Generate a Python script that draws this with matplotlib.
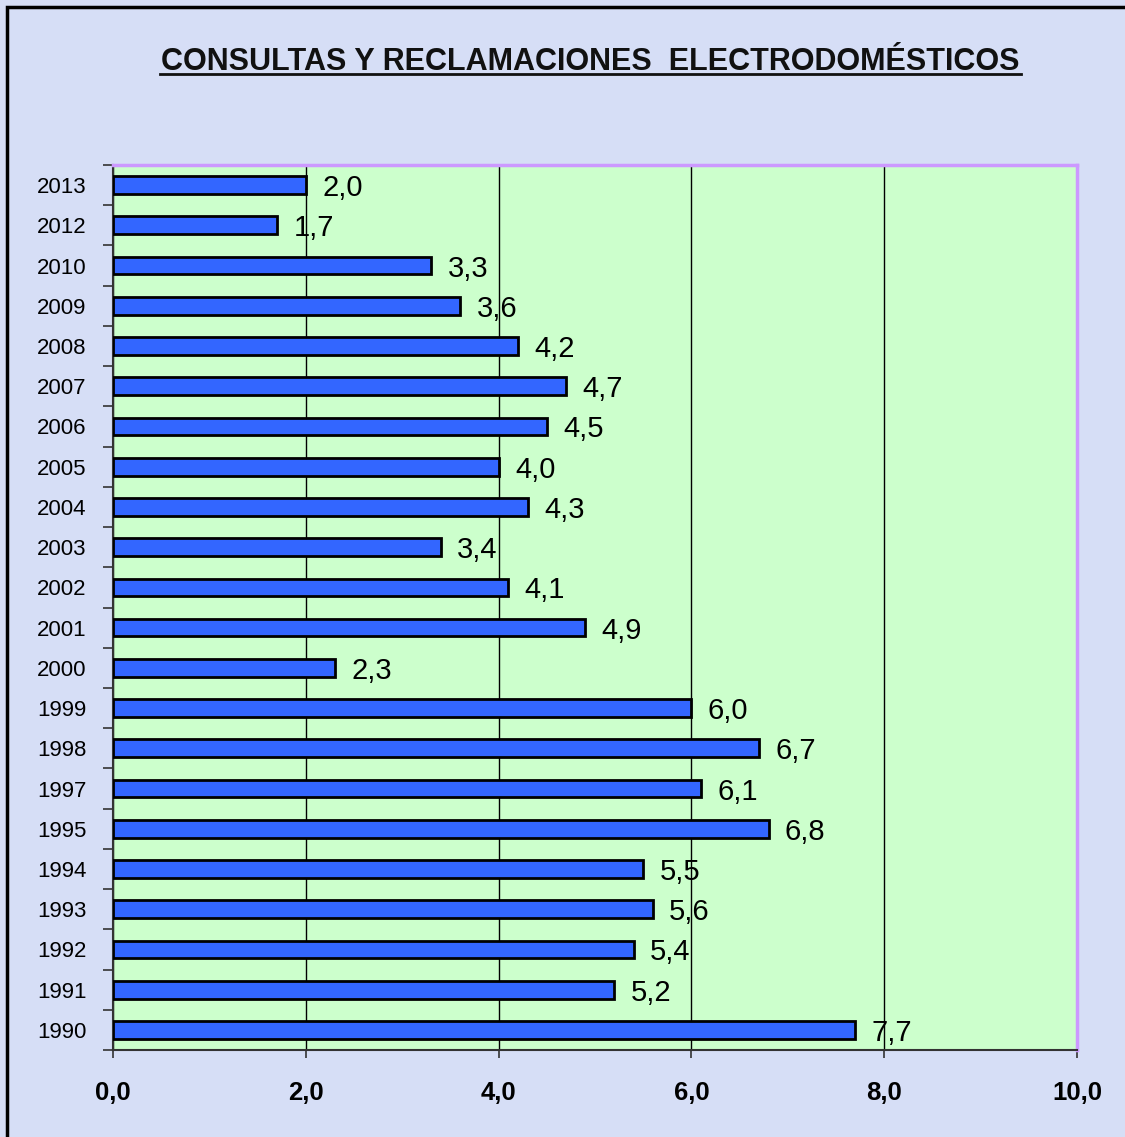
import numpy as np
import matplotlib.pyplot as plt
from matplotlib.patches import Rectangle

plt.rcParams['font.family'] = ['Liberation Sans', 'DejaVu Sans']

# datos (de arriba a abajo en el grafico)
years = ['2013', '2012', '2010', '2009', '2008', '2007', '2006', '2005', '2004', '2003', '2002',
         '2001', '2000', '1999', '1998', '1997', '1995', '1994', '1993', '1992', '1991', '1990']
values = [2.0, 1.7, 3.3, 3.6, 4.2, 4.7, 4.5, 4.0, 4.3, 3.4, 4.1,
          4.9, 2.3, 6.0, 6.7, 6.1, 6.8, 5.5, 5.6, 5.4, 5.2, 7.7]
xticks = [0, 2, 4, 6, 8, 10]

W, H = 1125, 1137
fig = plt.figure(figsize=(W / 100, H / 100), dpi=100)
fig.patch.set_facecolor('#D6DEF6')

# marco negro del grafico
fig.patches.append(Rectangle((7 / W, -0.1), 1.2, 1 - 7 / H + 0.1, transform=fig.transFigure,
                             fill=False, edgecolor='black', linewidth=2.5))

ax = fig.add_axes([113 / W, 1 - 1050 / H, (1077 - 113) / W, (1050 - 165) / H])
ax.set_facecolor('#CCFFCC')

n = len(years)
ypos = np.arange(n)[::-1]
ax.barh(ypos, values, height=0.44, color='#3366FF', edgecolor='black', linewidth=2, zorder=3)

for y, v in zip(ypos, values):
    ax.text(v + 0.17, y, f'{v:.1f}'.replace('.', ','), va='center_baseline', ha='left',
            fontsize=21, color='black', zorder=4)

ax.set_xlim(0, 10)
ax.set_ylim(-0.5, n - 0.5)
ax.set_xticks(xticks)
ax.set_xticklabels([f'{t:.1f}'.replace('.', ',') for t in xticks], fontsize=18.5, fontweight='bold')
ax.tick_params(axis='x', length=6, width=1.2, pad=16, color='#333333')

ax.set_yticks(ypos)
ax.set_yticklabels(years, fontsize=16)
ax.tick_params(axis='y', which='major', length=0, pad=19)
ax.set_yticks(np.arange(-0.5, n), minor=True)
ax.tick_params(axis='y', which='minor', length=7, width=1.2, color='#333333')

ax.grid(axis='x', color='black', linewidth=1, zorder=1)
ax.set_axisbelow(True)

for s in ['top', 'right']:
    ax.spines[s].set_color('#CC99FF')
    ax.spines[s].set_linewidth(2.5)
for s in ['left', 'bottom']:
    ax.spines[s].set_color('#333333')
    ax.spines[s].set_linewidth(1.5)

fig.text(590 / W, 1 - 62 / H, 'CONSULTAS Y RECLAMACIONES  ELECTRODOMÉSTICOS', ha='center', va='center',
         fontsize=22, fontweight='bold', color='#111111')
# subrayado del titulo
fig.add_artist(plt.Line2D([160 / W, 1021 / W], [1 - 74 / H, 1 - 74 / H], color='#111111', linewidth=2))

fig.savefig('out.png', dpi=100, facecolor=fig.get_facecolor())
